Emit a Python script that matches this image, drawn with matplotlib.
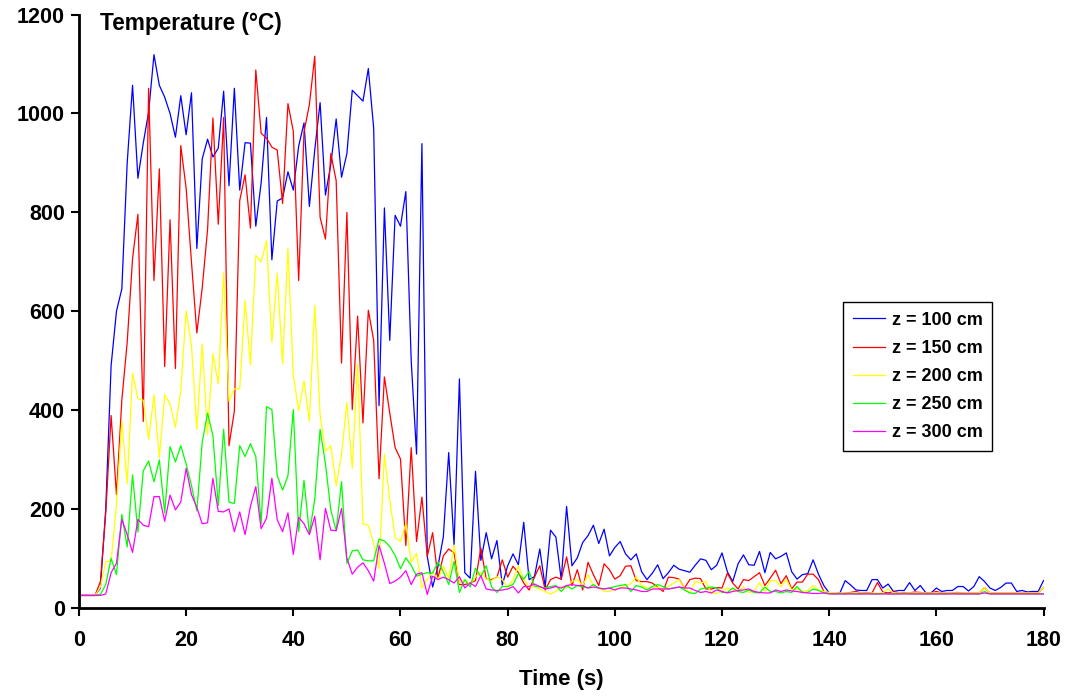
import matplotlib
matplotlib.use("Agg")
import matplotlib.pyplot as plt
import numpy as np

plt.rcParams['font.family'] = ['Liberation Sans', 'DejaVu Sans']
plt.rcParams['font.weight'] = 'bold'

# time in seconds, one reading per second
time_s = list(range(0, 181))

z100 = [25, 25, 25, 25, 40, 200, 490, 600, 645, 900,
        1057, 869, 940, 1003, 1119, 1057, 1033, 1000, 952, 1036,
        957, 1042, 727, 908, 948, 912, 930, 1045, 854, 1051,
        845, 941, 940, 772, 860, 992, 704, 823, 829, 882,
        845, 934, 981, 812, 926, 1022, 835, 897, 989, 871,
        919, 1047, 1036, 1025, 1091, 970, 409, 809, 541, 794,
        772, 842, 500, 311, 939, 104, 42, 84, 144, 314,
        127, 463, 71, 60, 276, 96, 152, 99, 136, 46,
        85, 109, 87, 173, 57, 63, 119, 42, 157, 143,
        57, 205, 85, 101, 132, 146, 167, 130, 159, 105,
        122, 134, 109, 97, 109, 73, 57, 70, 87, 59,
        71, 86, 78, 75, 72, 86, 99, 96, 77, 86,
        111, 73, 53, 89, 107, 87, 86, 114, 71, 112,
        99, 104, 111, 73, 58, 67, 69, 97, 68, 45,
        30, 29, 30, 55, 46, 36, 35, 35, 57, 57,
        40, 48, 33, 35, 35, 51, 35, 45, 31, 30,
        40, 33, 35, 35, 43, 43, 34, 43, 63, 53,
        40, 35, 41, 50, 50, 33, 35, 32, 33, 33,
        55]

z150 = [25, 25, 25, 25, 53, 192, 389, 229, 420, 537,
        706, 796, 377, 1051, 662, 888, 488, 785, 484, 935,
        849, 699, 556, 647, 765, 991, 776, 992, 328, 398,
        824, 876, 768, 1088, 960, 950, 932, 926, 818, 1020,
        964, 662, 963, 1018, 1116, 790, 746, 919, 864, 495,
        800, 401, 590, 374, 602, 541, 261, 467, 394, 324,
        301, 126, 324, 134, 224, 104, 152, 60, 105, 119,
        111, 47, 47, 50, 55, 121, 58, 57, 62, 97,
        62, 84, 71, 50, 36, 62, 85, 36, 57, 62,
        58, 103, 45, 77, 36, 92, 67, 45, 89, 77,
        58, 65, 84, 85, 55, 53, 53, 50, 42, 33,
        62, 61, 58, 40, 57, 60, 59, 38, 38, 41,
        40, 70, 50, 38, 57, 55, 63, 71, 45, 60,
        76, 49, 65, 38, 52, 52, 68, 68, 57, 33,
        30, 29, 29, 30, 31, 33, 30, 31, 30, 51,
        32, 30, 33, 30, 31, 30, 32, 31, 30, 30,
        33, 30, 30, 30, 31, 30, 30, 30, 30, 41,
        30, 30, 30, 30, 30, 30, 30, 30, 30, 30,
        41]

z200 = [25, 25, 25, 25, 42, 93, 95, 207, 379, 251,
        475, 423, 420, 341, 431, 304, 431, 412, 365, 438,
        601, 530, 361, 534, 350, 514, 453, 678, 418, 443,
        443, 622, 491, 713, 700, 743, 537, 677, 493, 727,
        471, 399, 459, 377, 612, 390, 317, 328, 247, 310,
        416, 282, 493, 170, 167, 130, 79, 311, 218, 142,
        134, 170, 92, 110, 40, 57, 73, 57, 84, 60,
        127, 50, 57, 47, 63, 71, 58, 55, 63, 57,
        41, 57, 85, 57, 43, 42, 38, 33, 28, 33,
        43, 40, 53, 57, 45, 67, 45, 40, 33, 33,
        38, 40, 45, 49, 63, 45, 40, 40, 42, 37,
        43, 50, 57, 40, 30, 53, 50, 53, 29, 29,
        35, 40, 36, 33, 42, 31, 33, 51, 33, 55,
        55, 43, 57, 36, 38, 33, 35, 45, 36, 33,
        31, 30, 30, 30, 30, 30, 30, 30, 30, 30,
        30, 38, 30, 30, 30, 30, 30, 30, 30, 30,
        30, 30, 30, 30, 30, 30, 30, 30, 30, 41,
        30, 30, 30, 30, 30, 30, 30, 30, 30, 30,
        41]

z250 = [25, 25, 25, 25, 27, 47, 100, 67, 189, 123,
        269, 153, 277, 297, 255, 299, 192, 326, 295, 328,
        291, 247, 196, 335, 394, 348, 207, 361, 214, 211,
        328, 306, 332, 306, 170, 407, 401, 267, 238, 267,
        401, 154, 258, 150, 219, 361, 291, 198, 156, 255,
        90, 115, 117, 97, 95, 95, 139, 135, 124, 106,
        79, 101, 86, 64, 68, 71, 70, 92, 73, 47,
        94, 31, 57, 42, 80, 63, 85, 42, 31, 43,
        43, 47, 69, 58, 73, 44, 42, 40, 43, 45,
        33, 45, 38, 45, 42, 40, 47, 40, 38, 40,
        43, 45, 47, 33, 45, 42, 36, 43, 47, 43,
        38, 40, 42, 36, 30, 29, 38, 40, 42, 40,
        31, 31, 40, 33, 31, 36, 31, 30, 42, 33,
        33, 30, 33, 31, 43, 31, 31, 38, 35, 30,
        29, 28, 29, 28, 29, 28, 28, 29, 28, 28,
        29, 28, 28, 28, 29, 28, 28, 28, 28, 28,
        28, 28, 28, 29, 28, 28, 28, 28, 28, 33,
        28, 28, 28, 28, 28, 28, 28, 28, 28, 28,
        28]

z300 = [25, 25, 25, 25, 25, 28, 71, 90, 179, 148,
        112, 179, 167, 164, 225, 225, 175, 228, 198, 214,
        282, 229, 203, 170, 172, 262, 195, 194, 200, 154,
        194, 148, 205, 245, 160, 181, 262, 178, 154, 192,
        108, 183, 170, 148, 185, 97, 201, 157, 156, 201,
        100, 68, 82, 91, 75, 54, 126, 90, 49, 54,
        62, 75, 47, 68, 71, 27, 64, 57, 62, 57,
        50, 63, 40, 50, 43, 65, 38, 36, 35, 36,
        38, 43, 30, 43, 43, 48, 43, 38, 40, 43,
        40, 45, 47, 45, 45, 40, 42, 40, 38, 40,
        36, 40, 40, 38, 36, 33, 33, 38, 38, 38,
        38, 40, 42, 40, 40, 35, 31, 33, 30, 36,
        33, 30, 33, 35, 36, 38, 33, 31, 30, 30,
        36, 33, 36, 34, 33, 31, 30, 29, 29, 30,
        28, 28, 28, 28, 28, 28, 28, 28, 28, 28,
        28, 28, 28, 28, 28, 28, 28, 28, 28, 28,
        28, 28, 28, 28, 28, 28, 28, 28, 28, 30,
        28, 28, 28, 28, 28, 28, 28, 28, 28, 28,
        28]

series = [
    ("z = 100 cm", z100, "#0000ff"),
    ("z = 150 cm", z150, "#ff0000"),
    ("z = 200 cm", z200, "#ffff00"),
    ("z = 250 cm", z250, "#00ff00"),
    ("z = 300 cm", z300, "#ff00ff"),
]

fig = plt.figure(figsize=(10.67, 6.97), dpi=100)
ax = fig.add_axes([0.074, 0.128, 0.904, 0.851])

for label, vals, color in series:
    ax.plot(time_s, vals, color=color, lw=0.9, label=label)

ax.set_xlim(0, 180)
ax.set_ylim(0, 1200)
ax.set_xticks(np.arange(0, 181, 20))
ax.set_yticks(np.arange(0, 1201, 200))
ax.tick_params(labelsize=15.5, width=1.5, length=6, direction='out')
ax.tick_params(axis='y', pad=4)
ax.tick_params(axis='x', pad=10)
for lab in ax.get_xticklabels() + ax.get_yticklabels():
    lab.set_fontweight('bold')

for side in ['top', 'right']:
    ax.spines[side].set_visible(False)
for side in ['left', 'bottom']:
    ax.spines[side].set_linewidth(2)

fig.text(561 / 1067, 1 - 685 / 697, "Time (s)", fontsize=16,
         fontweight='bold', ha='center', va='baseline')
fig.text(100 / 1067, 1 - 30 / 697, "Temperature (°C)", fontsize=16.3,
         fontweight='bold', ha='left', va='baseline')

leg = ax.legend(loc='upper left', bbox_to_anchor=(0.792, 0.516),
                borderaxespad=0, fancybox=False, framealpha=1,
                edgecolor='black', fontsize=13, handlelength=1.8,
                labelspacing=0.62, handletextpad=0.35, borderpad=0.55)
leg.get_frame().set_linewidth(1)
for t in leg.get_texts():
    t.set_fontweight('bold')

fig.savefig("out.png", dpi=100)
